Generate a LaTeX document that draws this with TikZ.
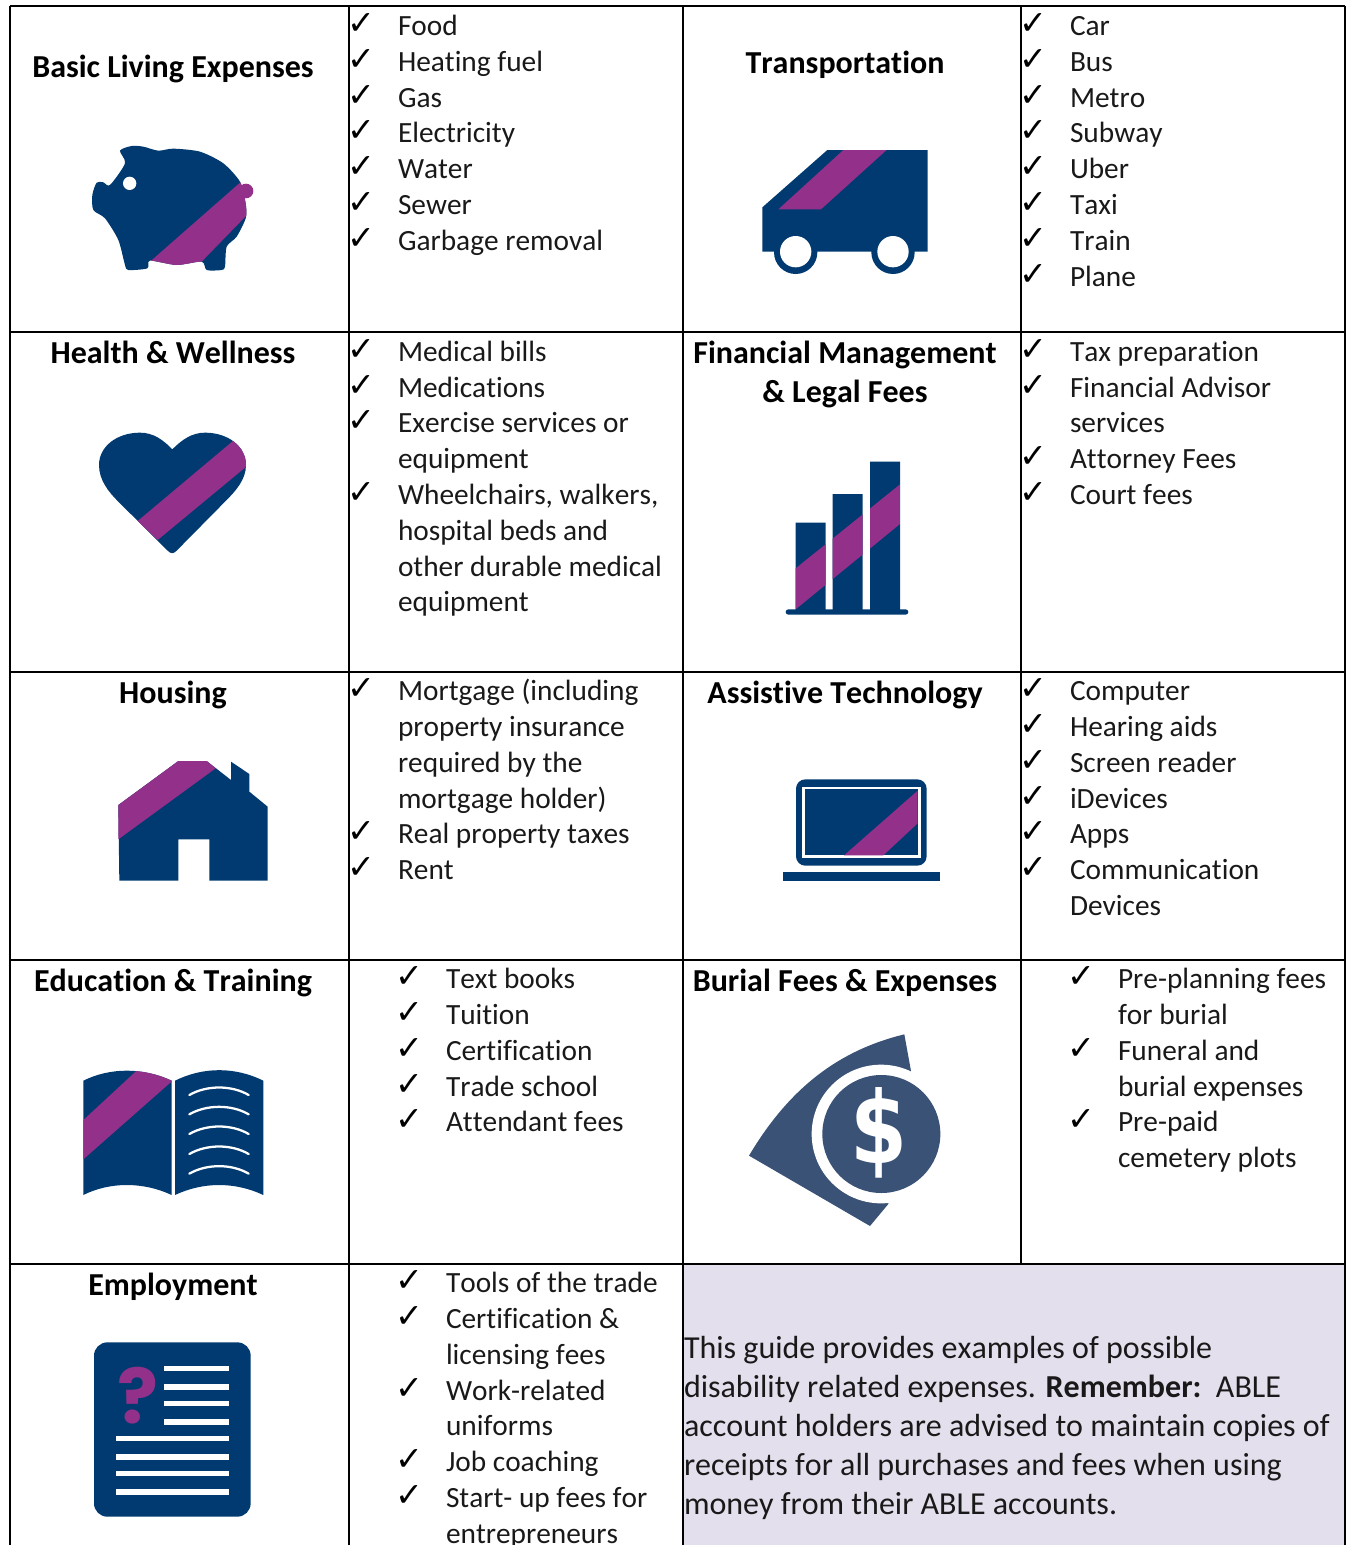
\documentclass[tikz,border=0pt]{standalone}
\usepackage{fontspec}
\setmainfont[Ligatures=NoCommon,Kerning=Off]{Carlito}
\newfontfamily\checkfont{DejaVu Sans}
\newfontfamily\glyphfont{Poppins}
\newfontfamily\dollarfont{DejaVu Sans}
\definecolor{navy}{HTML}{003A70}
\definecolor{plum}{HTML}{92308A}
\definecolor{slateblue}{HTML}{3A5276}
\definecolor{lilac}{HTML}{E4DFEC}
\tikzset{
  grid line/.style={draw=black,line width=1.5pt},
  item text/.style={anchor=base west,inner sep=0pt,outer sep=0pt,font=\fontsize{22}{26}\selectfont,text=black!90},
  check text/.style={anchor=base west,inner sep=0pt,outer sep=0pt,font=\checkfont\fontsize{25}{28}\selectfont,text=black},
  head text/.style={anchor=base,inner sep=0pt,outer sep=0pt,font=\fontsize{24}{29}\bfseries\selectfont,text=black},
  note text/.style={anchor=base west,inner sep=0pt,outer sep=0pt,font=\fontsize{24}{29}\selectfont,text=black!90},
  icon/.style 2 args={shift={(#1*0.75pt,-#2*0.75pt)},x=0.25pt,y=-0.25pt},
}
\newcommand{\litem}[3]{\node[item text] at (#1,#2+0.4) {#3};}
\newcommand{\lcheck}[2]{\node[check text] at (#1-3.5,#2-0.5) {✓};}
\begin{document}
\begin{tikzpicture}[x=0.75pt,y=-0.75pt]
\useasboundingbox (0,0) rectangle (1348,1545);
\begin{scope}
\clip (0,0) rectangle (1348,1545);
\fill[lilac] (683,1264) rectangle (1345,1545);

% grid
\foreach \gx in {10,349,683,1345} \draw[grid line] (\gx,6) -- (\gx,1545);
\draw[grid line] (1021,6) -- (1021,1264);
\draw[grid line] (10,6) -- (1345,6);
\draw[grid line] (10,332) -- (1345,332);
\draw[grid line] (10,672) -- (1345,672);
\draw[grid line] (10,960) -- (1345,960);
\draw[grid line] (10,1264) -- (1345,1264);

% headings
\node[head text] (h1) at (173,78) {Basic Living Expenses};
\node[head text] (h2) at (845,74) {Transportation};
\node[head text] (h3) at (173,363.5) {Health \& Wellness};
\node[head text] (h4a) at (845,363.5) {Financial Management};
\node[head text] (h4b) at (845,402.5) {\& Legal Fees};
\node[head text] (h5) at (173,703.5) {Housing};
\node[head text] (h6) at (845,703.5) {Assistive Technology};
\node[head text] (h7) at (173,991.5) {Education \& Training};
\node[head text] (h8) at (845,991.5) {Burial Fees \& Expenses};
\node[head text] (h9) at (173,1295.5) {Employment};

% lists
\litem{398}{35}{Food}\litem{398}{71}{Heating fuel}\litem{398}{107}{Gas}\litem{398}{142}{Electricity}\litem{398}{178}{Water}\litem{398}{214}{Sewer}\litem{398}{250}{Garbage removal}
\foreach \yy in {35,71,107,142,178,214,250} {\lcheck{351}{\yy}}
\litem{1070}{35}{Car}\litem{1070}{71}{Bus}\litem{1070}{107}{Metro}\litem{1070}{142}{Subway}\litem{1070}{178}{Uber}\litem{1070}{214}{Taxi}\litem{1070}{250}{Train}\litem{1070}{286}{Plane}
\foreach \yy in {35,71,107,142,178,214,250,286} {\lcheck{1023}{\yy}}
\litem{398}{361}{Medical bills}\litem{398}{397}{Medications}\litem{398}{432}{Exercise services or}\litem{398}{468}{equipment}\litem{398}{504}{Wheelchairs, walkers,}\litem{398}{540}{hospital beds and}\litem{398}{576}{other durable medical}\litem{398}{611}{equipment}
\foreach \yy in {361,397,432,504} {\lcheck{351}{\yy}}
\litem{1070}{361}{Tax preparation}\litem{1070}{397}{Financial Advisor}\litem{1070}{432}{services}\litem{1070}{468}{Attorney Fees}\litem{1070}{504}{Court fees}
\foreach \yy in {361,397,468,504} {\lcheck{1023}{\yy}}
\litem{398}{700}{Mortgage (including}\litem{398}{736}{property insurance}\litem{398}{772}{required by the}\litem{398}{808}{mortgage holder)}\litem{398}{843}{Real property taxes}\litem{398}{879}{Rent}
\foreach \yy in {700,843,879} {\lcheck{351}{\yy}}
\litem{1070}{700}{Computer}\litem{1070}{736}{Hearing aids}\litem{1070}{772}{Screen reader}\litem{1070}{808}{iDevices}\litem{1070}{843}{Apps}\litem{1070}{879}{Communication}\litem{1070}{915}{Devices}
\foreach \yy in {700,736,772,808,843,879} {\lcheck{1023}{\yy}}
\litem{446}{988}{Text books}\litem{446}{1024}{Tuition}\litem{446}{1060}{Certification}\litem{446}{1096}{Trade school}\litem{446}{1131}{Attendant fees}
\foreach \yy in {988,1024,1060,1096,1131} {\lcheck{399}{\yy}}
\litem{1118}{988}{Pre-planning fees}\litem{1118}{1024}{for burial}\litem{1118}{1060}{Funeral and}\litem{1118}{1096}{burial expenses}\litem{1118}{1131}{Pre-paid}\litem{1118}{1167}{cemetery plots}
\foreach \yy in {988,1060,1131} {\lcheck{1071}{\yy}}
\litem{446}{1292}{Tools of the trade}\litem{446}{1328}{Certification \&}\litem{446}{1364}{licensing fees}\litem{446}{1400}{Work-related}\litem{446}{1435}{uniforms}\litem{446}{1471}{Job coaching}\litem{446}{1507}{Start- up fees for}\litem{446}{1543}{entrepreneurs}
\foreach \yy in {1292,1328,1400,1471,1507} {\lcheck{399}{\yy}}

% note
\node[note text] (n1) at (684,1358.5) {This guide provides examples of possible};
\node[note text] (n2) at (684,1397.5) {disability related expenses. \textbf{Remember:}\ \ ABLE};
\node[note text] (n3) at (684,1436.5) {account holders are advised to maintain copies of};
\node[note text] (n4) at (684,1475.5) {receipts for all purchases and fees when using};
\node[note text] (n5) at (684,1514.5) {money from their ABLE accounts.};

% piggy bank
\begin{scope}[icon={60}{130}]
\def\pigpath{plot[smooth cycle,tension=.45] coordinates {(180,62) (215,48) (250,50) (295,62) (340,56) (420,65) (490,100) (540,155) (556,215) (558,262) (530,320) (500,350) (495,410) (485,420) (440,420) (425,395) (350,405) (270,392) (262,415) (205,420) (195,405) (175,330) (135,265) (100,240) (97,195) (110,158) (130,157) (150,165) (195,100)}}
\fill[navy] \pigpath;
\begin{scope}
\clip \pigpath;
\fill[plum] (540,158) -- (600,140) -- (600,215) -- (425,395) -- (350,430) -- (270,395) -- cycle;
\end{scope}
\fill[plum] (558,183) circle[radius=22];
\fill[white] (209,160) circle[radius=20];
\end{scope}

% van
\begin{scope}[icon={740}{130}]
\fill[navy] (67,232) -- (262,60) -- (563,60) -- (563,365) -- (67,365) -- cycle;
\fill[navy] (167,367) circle[radius=65] (459,367) circle[radius=65];
\fill[white] (167,365) circle[radius=47] (459,365) circle[radius=47];
\fill[plum] (310,60) -- (440,60) -- (243,238) -- (115,238) -- cycle;
\end{scope}

% heart
\begin{scope}[icon={85}{420}]
\def\heartpath{(262,88) .. controls (290,60) and (320,38) .. (360,38) .. controls (430,38) and (483,80) .. (483,135) .. controls (483,180) and (450,215) .. (420,245) -- (275,392) .. controls (265,402) and (258,402) .. (248,392) -- (100,245) .. controls (70,215) and (42,180) .. (42,135) .. controls (42,80) and (95,38) .. (165,38) .. controls (205,38) and (235,60) .. (262,88) -- cycle}
\fill[navy] \heartpath;
\begin{scope}
\clip \heartpath;
\fill[plum] (445,62) -- (520,30) -- (520,110) -- (218,360) -- (158,303) -- cycle;
\end{scope}
\end{scope}

% bars
\begin{scope}[icon={770}{450}]
\def\barspath{(77,218) rectangle (167,480) (188,132) rectangle (278,480) (300,35) rectangle (390,480)}
\fill[navy] \barspath;
\begin{scope}
\clip \barspath;
\fill[plum] (77,355) -- (390,103) -- (390,222) -- (77,478) -- cycle;
\end{scope}
\fill[navy,rounded corners=2pt] (47,478) rectangle (415,494);
\end{scope}

% house
\begin{scope}[icon={100}{750}]
\fill[navy] (55,165) -- (235,33) -- (320,33) -- (393,90) -- (393,35) -- (448,72) -- (448,125) -- (503,170) -- (503,392) -- (328,392) -- (328,268) -- (235,268) -- (235,392) -- (58,392) -- cycle;
\fill[plum] (55,165) -- (235,33) -- (320,33) -- (347,55) -- (55,268) -- cycle;
\end{scope}

% laptop
\begin{scope}[icon={770}{770}]
\fill[navy,rounded corners=7pt] (78,28) rectangle (470,287);
\draw[white,line width=1.8pt,fill=navy] (101,54) rectangle (448,260);
\fill[plum] (443,62) -- (443,160) -- (340,256) -- (222,256) -- cycle;
\fill[navy] (40,305) rectangle (510,333);
\end{scope}

% book
\begin{scope}[icon={60}{1050}]
\def\leftpage{(70,92) .. controls (150,52) and (250,52) .. (335,92) -- (335,435) .. controls (250,395) and (150,395) .. (70,435) -- cycle}
\fill[navy] \leftpage;
\fill[navy] (345,92) .. controls (430,50) and (525,50) .. (610,92) -- (610,435) .. controls (525,395) and (430,395) .. (345,435) -- cycle;
\begin{scope}
\clip \leftpage;
\fill[plum] (70,210) -- (232,60) -- (340,60) -- (340,90) -- (70,328) -- cycle;
\end{scope}
\foreach \ay in {135,193,252,312,371}
  \draw[white,line width=1.7pt,line cap=round] (388,\ay) .. controls (440,\ay-30) and (515,\ay-30) .. (566,\ay);
\end{scope}

% burial coin
\begin{scope}[icon={730}{1020}]
\fill[slateblue] (57,407) .. controls (180,200) and (330,90) .. (523,43) -- (543,153) -- (475,552) -- (420,618) -- cycle;
\fill[white] (453,342) circle[radius=208];
\fill[slateblue] (454,342) circle[radius=177];
\node[inner sep=0pt,text=white,xscale=.82,font=\dollarfont\fontsize{75}{75}\bfseries\selectfont] (dollar) at (448,340) {\$};
\end{scope}

% employment sheet
\begin{scope}[icon={80}{1330}]
\fill[navy,rounded corners=10pt] (42,37) rectangle (512,560);
\foreach \ly in {116,171,221,276} \fill[white] (253,\ly-8) rectangle (447,\ly+8);
\foreach \ly in {326,381,431,486} \fill[white] (108,\ly-8) rectangle (447,\ly+8);
\node[inner sep=0pt,text=plum,font=\glyphfont\fontsize{57}{57}\bfseries\selectfont] (qmark) at (174,198) {?};
\end{scope}
\end{scope}
\end{tikzpicture}
\end{document}
